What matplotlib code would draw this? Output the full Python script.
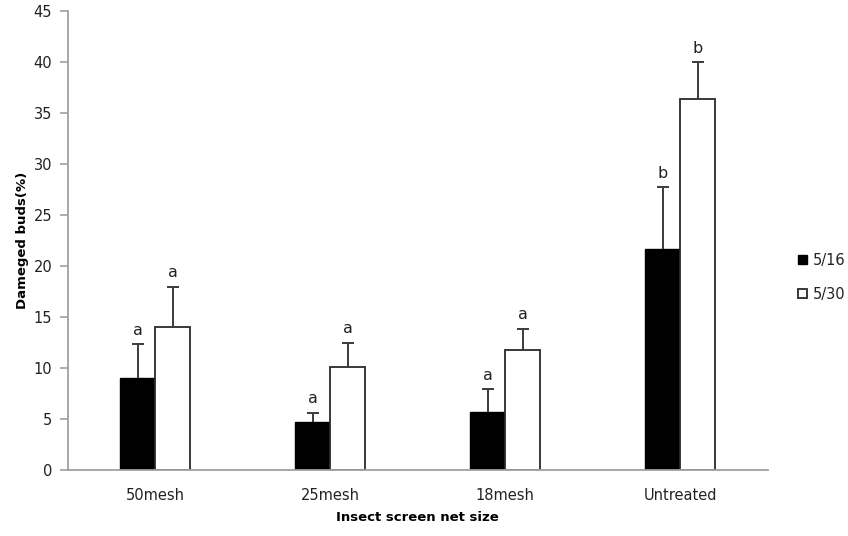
import matplotlib
matplotlib.use("Agg")
import matplotlib.pyplot as plt
import numpy as np

# damaged buds by screen net size, two survey dates
categories = ["50mesh", "25mesh", "18mesh", "Untreated"]
dates = ["5/16", "5/30"]
mean_516 = [9.05, 4.67, 5.65, 21.65]
mean_530 = [14.0, 10.13, 11.76, 36.4]
err_516 = [3.3, 0.95, 2.26, 6.1]
err_530 = [3.97, 2.35, 2.09, 3.6]
letters_516 = ["a", "a", "a", "b"]
letters_530 = ["a", "a", "a", "b"]

AXIS_GREY = "#a0a0a0"
TEXT = "#222222"
ERR = "#3a3a3a"

fig = plt.figure(figsize=(8.48, 5.36), dpi=100)
ax = fig.add_axes([0.0796, 0.1235, 0.8255, 0.856])

x = np.arange(len(categories))
w = 0.2

ax.bar(x - w / 2, mean_516, w, color="black", edgecolor="black", lw=1.0,
       label=dates[0], zorder=2)
ax.bar(x + w / 2, mean_530, w, color="white", edgecolor="#2a2a2a", lw=1.3,
       label=dates[1], zorder=2)


def upper_err(xs, means, errs):
    # one-sided (upper) error bar with a cap only at the top
    tops = np.array(means) + np.array(errs)
    ax.vlines(xs, means, tops, color=ERR, lw=1.4, zorder=3)
    ax.plot(xs, tops, ls="none", marker="_", ms=9, mew=1.4, color=ERR, zorder=3)
    return tops


tops_516 = upper_err(x - w / 2, mean_516, err_516)
tops_530 = upper_err(x + w / 2, mean_530, err_530)

for i in range(len(categories)):
    ax.text(x[i] - w / 2, tops_516[i] + 0.6, letters_516[i],
            ha="center", va="bottom", fontsize=11.5, color=TEXT)
    ax.text(x[i] + w / 2, tops_530[i] + 0.6, letters_530[i],
            ha="center", va="bottom", fontsize=11.5, color=TEXT)

ax.set_xlim(-0.5, len(categories) - 0.5)
ax.set_ylim(0, 45)
ax.set_yticks(np.arange(0, 46, 5))
ax.set_xticks(x)
ax.set_xticklabels(categories)

for side in ["top", "right"]:
    ax.spines[side].set_visible(False)
for side in ["left", "bottom"]:
    ax.spines[side].set_color(AXIS_GREY)
    ax.spines[side].set_linewidth(1.3)
ax.tick_params(axis="y", length=6, width=1.2, color=AXIS_GREY, labelsize=10.5,
               labelcolor=TEXT, pad=5)
ax.tick_params(axis="x", length=0, labelsize=10.5, labelcolor=TEXT, pad=13)

ax.set_ylabel("Dameged buds(%)", fontsize=9.5, fontweight="bold", color="black", labelpad=3)
ax.set_xlabel("Insect screen net size", fontsize=9.5, fontweight="bold", color="black", labelpad=6)

ax.legend(loc="center left", bbox_to_anchor=(1.025, 0.42), frameon=False, fontsize=10.5,
          handlelength=0.6, handleheight=0.6, handletextpad=0.4, labelspacing=1.3,
          labelcolor=TEXT)

fig.savefig("out.png", dpi=100)
